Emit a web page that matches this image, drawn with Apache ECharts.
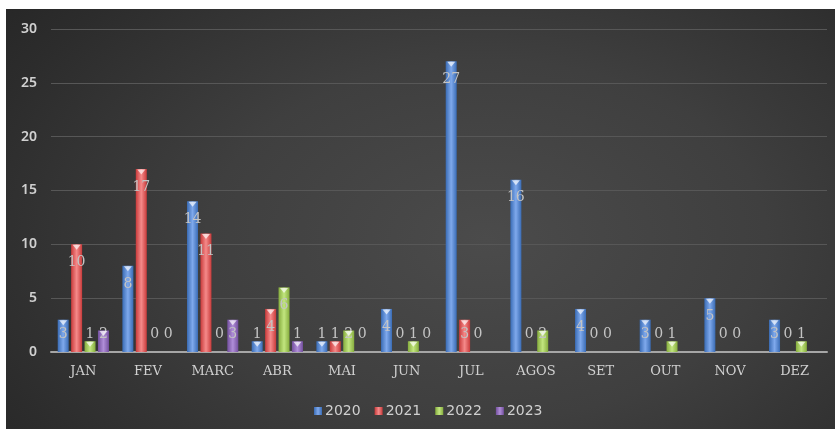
<!DOCTYPE html>
<html>
<head>
<meta charset="utf-8">
<title>ECharts</title>
<script src="https://cdn.jsdelivr.net/npm/echarts@6/dist/echarts.min.js"></script>
<style>
  html, body { margin: 0; padding: 0; background: #fff; }
  #main {
    position: absolute; left: 6px; top: 9px; width: 829px; height: 420px;
    background: radial-gradient(ellipse 75% 95% at 58% 55%, #4b4b4b 0%, #3f3f3f 45%, #2c2c2c 85%, #262626 100%);
  }
</style>
</head>
<body>
<div id="main"></div>
<script type="text/javascript">
// categorias e valores
var months = ['JAN', 'FEV', 'MARC', 'ABR', 'MAI', 'JUN', 'JUL', 'AGOS', 'SET', 'OUT', 'NOV', 'DEZ'];
var years = ['2020', '2021', '2022', '2023'];
var v2020 = [3, 8, 14, 1, 1, 4, 27, 16, 4, 3, 5, 3];
var v2021 = [10, 17, 11, 4, 1, 0, 3, 0, 0, 0, 0, 0];
var v2022 = [1, 0, 0, 6, 2, 1, 0, 2, 0, 1, 0, 1];
var v2023 = [2, 0, 3, 1, 0, 0, null, null, null, null, null, null];
var yTicks = [0, 5, 10, 15, 20, 25, 30];

var colors = [
  ['#3a6cb5', '#7fa9ec', '#3a6cb5'],
  ['#c93b3b', '#f58a8a', '#c93b3b'],
  ['#86ad3e', '#c2e67f', '#86ad3e'],
  ['#74509f', '#b08ed8', '#74509f']
];
var legendColors = ['#4f81bd', '#c0504d', '#9bbb59', '#8064a2'];

var BAR_W = 11;
var STEP = 13.4; // distância entre centros das barras do grupo

function grad(c) {
  return new echarts.graphic.LinearGradient(0, 0, 1, 0, [
    { offset: 0, color: c[0] }, { offset: 0.5, color: c[1] }, { offset: 1, color: c[2] }
  ]);
}

function makeData(vals) {
  return vals.map(function (v) {
    if (v === null) return null;
    // rótulos pequenos ficam acima da base
    var pos = v >= 4 ? 'insideTop' : 'insideBottom';
    return { value: v, label: { position: pos, distance: 11 } };
  });
}

var seriesVals = [v2020, v2021, v2022, v2023];
var series = [];
seriesVals.forEach(function (vals, i) {
  series.push({
    name: years[i],
    type: 'bar',
    barWidth: BAR_W,
    barGap: '22%',
    data: makeData(vals),
    itemStyle: { color: grad(colors[i]) },
    label: {
      show: true,
      color: '#c4c4c4',
      fontFamily: 'DejaVu Serif',
      fontSize: 14
    }
  });
});
// triângulos brancos no topo das barras (efeito de bisel)
seriesVals.forEach(function (vals, i) {
  series.push({
    name: years[i] + '-top',
    type: 'scatter',
    symbol: 'triangle',
    symbolRotate: 180,
    symbolSize: [8, 5],
    symbolOffset: [(i - 1.5) * STEP, 3],
    silent: true,
    z: 5,
    itemStyle: { color: 'rgba(255,255,255,0.85)' },
    data: vals.map(function (v) { return v ? v : null; })
  });
});

var myChart = echarts.init(document.getElementById('main'));
var option = {
  backgroundColor: 'transparent',
  color: legendColors,
  grid: { left: 45, right: 8, top: 20, bottom: 77 },
  legend: {
    data: years,
    left: 303,
    top: 390,
    itemWidth: 8,
    itemHeight: 8,
    itemGap: 14,
    icon: 'rect',
    textStyle: { color: '#d0d0d0', fontFamily: 'DejaVu Sans', fontSize: 14, padding: [0, 0, 0, -2] }
  },
  xAxis: {
    type: 'category',
    data: months,
    axisLine: { lineStyle: { color: '#a6a6a6', width: 2 } },
    axisTick: { show: false },
    axisLabel: { color: '#d0d0d0', fontFamily: 'DejaVu Serif', fontSize: 13, margin: 13 }
  },
  yAxis: {
    type: 'value',
    min: yTicks[0],
    max: yTicks[yTicks.length - 1],
    interval: 5,
    axisLine: { show: false },
    axisTick: { show: false },
    splitLine: { lineStyle: { color: '#575757', width: 1 } },
    axisLabel: { color: '#d0d0d0', fontFamily: 'Noto Sans', fontSize: 14, fontWeight: 600, margin: 14 }
  },
  series: series
};
myChart.setOption(option);
</script>
</body>
</html>
